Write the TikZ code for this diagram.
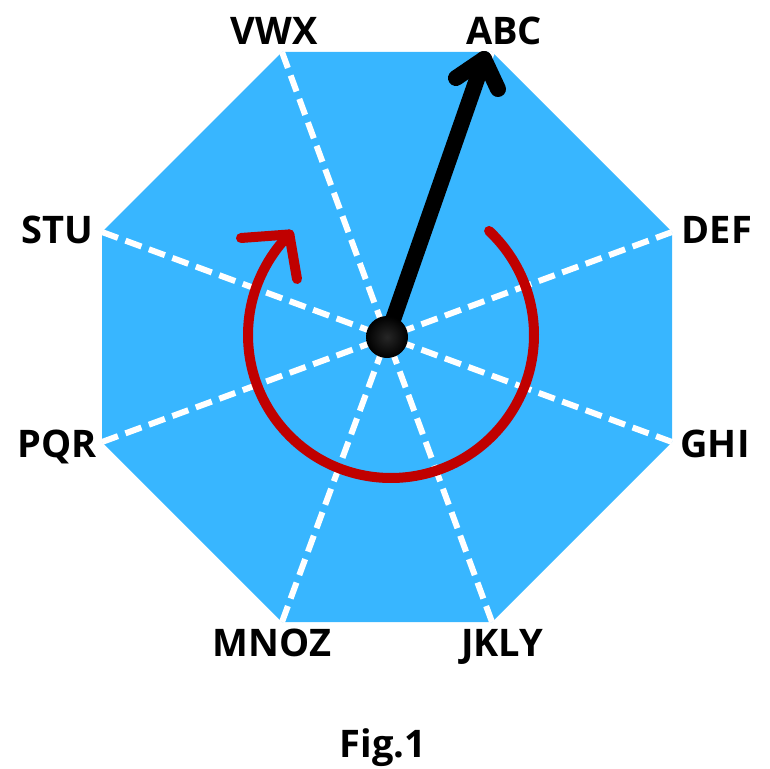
\documentclass[tikz,border=0pt]{standalone}
\usepackage{fontspec}
\setmainfont{Open Sans}
\begin{document}
\begin{tikzpicture}[x=1pt,y=-1pt,
  lbl/.style={font=\bfseries\fontsize{38}{38}\selectfont, anchor=base, inner sep=0pt, text=black},
  ray/.style={white, line width=6pt, dash pattern=on 17pt off 8pt},
  redline/.style={draw=arcred, line width=10pt, line cap=round, line join=round},
  blackline/.style={draw=black, line width=16pt, line cap=round, line join=round}]
\definecolor{octblue}{RGB}{56,182,255}
\definecolor{arcred}{RGB}{192,0,0}
\useasboundingbox (0,0) rectangle (770,768);
% vertices
\coordinate (c) at (387,337);
\coordinate (vabc) at (492,52);
\coordinate (vdef) at (672,232);
\coordinate (vghi) at (672,442);
\coordinate (vjkly) at (492,622);
\coordinate (vmnoz) at (282,622);
\coordinate (vpqr) at (102,442);
\coordinate (vstu) at (102,232);
\coordinate (vvwx) at (282,52);
% octagon
\fill[octblue] (vabc) -- (vdef) -- (vghi) -- (vjkly) -- (vmnoz) -- (vpqr) -- (vstu) -- (vvwx) -- cycle;
% rays
\foreach \v in {vabc,vdef,vghi,vjkly,vmnoz,vpqr,vstu,vvwx}
  \draw[ray] (\v) -- (c);
% red arc
\coordinate (ac) at (391,335);
\draw[redline] (ac) ++(-46.7:143) arc[start angle=-46.7, end angle=224.7, radius=143] coordinate (rtip);
\coordinate (rb1) at (241,238);
\coordinate (rb2) at (297,279);
\draw[redline] (rb1) -- (rtip) -- (rb2);
% black arrow
\coordinate (btip) at (484,59);
\coordinate (bb1) at (456,78);
\coordinate (bb2) at (498,89);
\draw[blackline] (c) -- (btip);
\draw[blackline] (bb1) -- (btip) -- (bb2);
% center dot
\shade[inner color=black!85, outer color=black] (c) circle[radius=21];
% labels
\node[lbl] (labc) at (504,45) {ABC};
\node[lbl] (lvwx) at (274,45) {VWX};
\node[lbl] (ldef) at (717,243) {DEF};
\node[lbl] (lstu) at (57,243) {STU};
\node[lbl] (lghi) at (715,457) {GHI};
\node[lbl] (lpqr) at (57,457) {PQR};
\node[lbl] (ljkly) at (502,656) {JKLY};
\node[lbl] (lmnoz) at (272,656) {MNOZ};
\node[lbl] (lfig) at (383,757) {Fig.1};
\end{tikzpicture}
\end{document}
